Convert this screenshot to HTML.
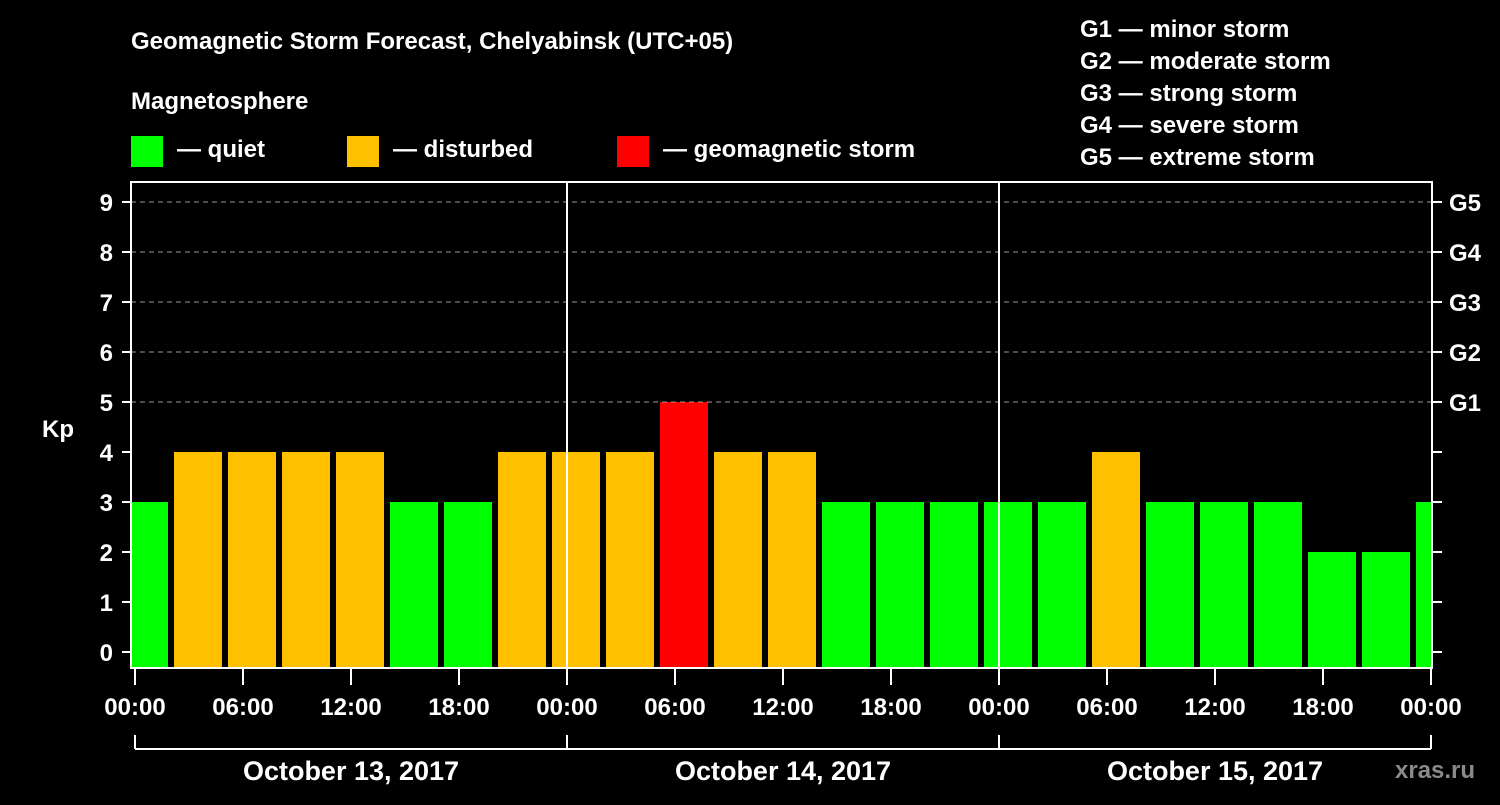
<!DOCTYPE html>
<html><head><meta charset="utf-8"><style>
body{margin:0;background:#000;width:1500px;height:800px;overflow:hidden}
svg text{font-family:"Liberation Sans",Arial,sans-serif;font-weight:bold;fill:#fff}
</style></head><body>
<svg id="c" width="1500" height="800">
<text x="131" y="49" font-size="24">Geomagnetic Storm Forecast, Chelyabinsk (UTC+05)</text>
<text x="131" y="109" font-size="24">Magnetosphere</text>
<g><rect x="131" y="136" width="32" height="31" fill="#00ff00"/><text x="177" y="157" font-size="24">— quiet</text></g>
<g><rect x="347" y="136" width="32" height="31" fill="#ffc000"/><text x="393" y="157" font-size="24">— disturbed</text></g>
<g><rect x="617" y="136" width="32" height="31" fill="#ff0000"/><text x="663" y="157" font-size="24">— geomagnetic storm</text></g>
<g font-size="24">
<text x="1080" y="37">G1 — minor storm</text>
<text x="1080" y="69">G2 — moderate storm</text>
<text x="1080" y="101">G3 — strong storm</text>
<text x="1080" y="133">G4 — severe storm</text>
<text x="1080" y="165">G5 — extreme storm</text>
</g>
<text x="42" y="437" font-size="24">Kp</text>
<text x="1395" y="778" font-size="24" fill="#888" style="fill:#8a8a8a">xras.ru</text>
<g id="bars"></g>
<g id="axes"></g>
</svg>
<script>
const kpValues=[3,4,4,4,4,3,3,4,4,4,5,4,4,3,3,3,3,3,4,3,3,3,2,2,3];
const hourTicks=["00:00","06:00","12:00","18:00","00:00","06:00","12:00","18:00","00:00","06:00","12:00","18:00","00:00"];
const dayLabels=["October 13, 2017","October 14, 2017","October 15, 2017"];
const gLabels=["G1","G2","G3","G4","G5"];
const NS="http://www.w3.org/2000/svg";
const X0=135,PXH=18,Y0=652,PXK=50,L=131,R=1432,T=182,B=668;
const xs=h=>X0+h*PXH, ys=k=>Y0-k*PXK;
function mk(tag,at,parent){const e=document.createElementNS(NS,tag);for(const k in at)e.setAttribute(k,at[k]);parent.appendChild(e);return e;}
const bars=document.getElementById('bars'),ax=document.getElementById('axes');
const col=v=>v>=5?"#ff0000":v>=4?"#ffc000":"#00ff00";
kpValues.forEach((v,i)=>{
  const c=xs(0.5+3*i);let x1=Math.max(c-24,L+1),x2=Math.min(c+24,R-1);
  const r=mk('rect',{x:x1,y:ys(v),width:x2-x1,height:B-ys(v),fill:col(v)},bars);
  
  
});
for(let k=0;k<=9;k++){
  const y=ys(k);
  if(k>=5){const g=mk('line',{x1:L,x2:R,y1:y,y2:y,stroke:'#999','stroke-dasharray':'5,4','stroke-width':1},ax);
    
    const t=mk('text',{x:1449,y:y+9,'font-size':24},ax);t.textContent=gLabels[k-5];
    }
  mk('line',{x1:122,x2:L,y1:y,y2:y,stroke:'#fff','stroke-width':2},ax);
  mk('line',{x1:R,x2:R+10,y1:y,y2:y,stroke:'#fff','stroke-width':2},ax);
  const t=mk('text',{x:113,y:y+9,'font-size':24,'text-anchor':'end'},ax);t.textContent=k;
  
}
[1,2].forEach(d=>{mk('line',{x1:xs(24*d),x2:xs(24*d),y1:T,y2:B,stroke:'#fff','stroke-width':2},ax);});
const fr=mk('rect',{x:L,y:T,width:R-L,height:B-T,fill:'none',stroke:'#fff','stroke-width':2},ax);

hourTicks.forEach((s,i)=>{
  const x=xs(6*i);
  mk('line',{x1:x,x2:x,y1:B,y2:685,stroke:'#fff','stroke-width':2},ax);
  const t=mk('text',{x:x,y:715,'font-size':24,'text-anchor':'middle'},ax);t.textContent=s;
  
});
mk('line',{x1:xs(0),x2:xs(72),y1:749,y2:749,stroke:'#fff','stroke-width':2},ax);
[0,1,2,3].forEach(d=>mk('line',{x1:xs(24*d),x2:xs(24*d),y1:735,y2:749,stroke:'#fff','stroke-width':2},ax));
dayLabels.forEach((s,i)=>{
  const t=mk('text',{x:xs(24*i+12),y:780,'font-size':27,'text-anchor':'middle'},ax);t.textContent=s;
  
});
</script>
</body></html>
